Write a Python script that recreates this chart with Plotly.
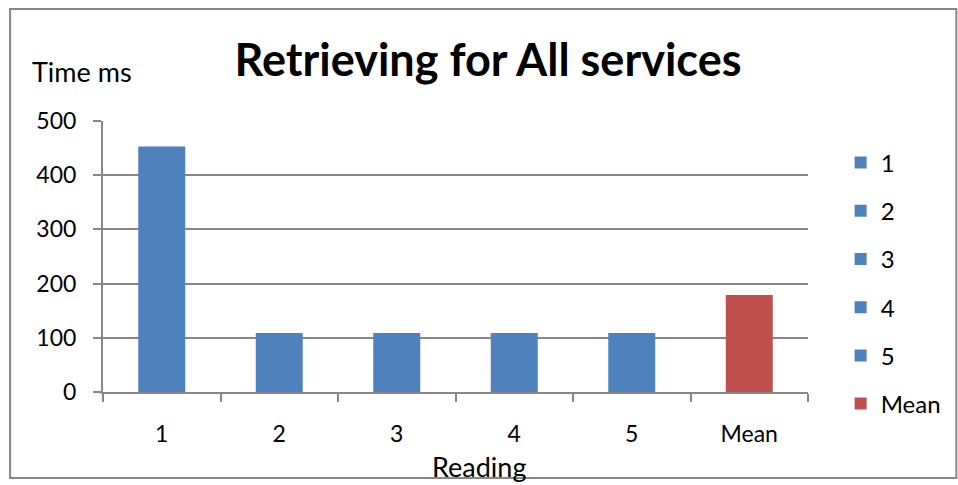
import plotly.graph_objects as go

categories = ["1", "2", "3", "4", "5", "Mean"]
values = [453, 109, 109, 109, 109, 179]
colors = ["#4F81BD"] * 5 + ["#C0504D"]
y_ticks = [0, 100, 200, 300, 400, 500]

FONT = "Lato"
GRAY = "#878787"

fig = go.Figure()
for c, v, col in zip(categories, values, colors):
    fig.add_trace(go.Bar(x=[c], y=[v], name=c, marker_color=col,
                         marker_line_width=0, legendgroup=c))

L, R, T, B = 103, 816, 121, 392
W, H = 958, 485
pw, ph = R - L, B - T

def px(x):
    return (x - L) / pw

def py(y):
    return (B - y) / ph

fig.update_layout(
    width=W, height=H,
    margin=dict(l=L, r=W - R, t=T, b=H - B, pad=0),
    paper_bgcolor="white", plot_bgcolor="white",
    barmode="overlay", bargap=0.6,
    font=dict(family=FONT, color="black", size=23),
    title=dict(text="<b>Retrieving for All services</b>", x=488 / W, xanchor="center",
               y=1 - 60 / H, yanchor="middle", font=dict(size=45, family=FONT)),
    xaxis=dict(type="category", categoryorder="array", categoryarray=categories,
               showline=True, linecolor=GRAY, linewidth=2, ticks="outside",
               tickson="boundaries", ticklen=8, tickcolor=GRAY, tickwidth=2,
               ticklabelstandoff=20, tickfont=dict(size=23), showgrid=False),
    yaxis=dict(range=[0, 500], tickvals=y_ticks, showline=True, linecolor=GRAY,
               linewidth=2, ticks="outside", ticklen=8, tickcolor=GRAY, tickwidth=2,
               ticklabelstandoff=12, showgrid=True, gridcolor=GRAY, gridwidth=2,
               zeroline=False, tickfont=dict(size=23)),
    legend=dict(x=px(849), xanchor="left", y=py(283.5), yanchor="middle",
                font=dict(size=24), tracegroupgap=14, itemwidth=30,
                bgcolor="rgba(0,0,0,0)", maxheight=420),
    showlegend=True,
)

fig.add_annotation(text="Time ms", xref="paper", yref="paper", x=px(29), xanchor="left",
                   y=py(71), yanchor="middle", showarrow=False, font=dict(size=27))
fig.add_annotation(text="Reading", xref="paper", yref="paper", x=px(483.5), xanchor="center",
                   y=py(466), yanchor="middle", showarrow=False, font=dict(size=27))

fig.add_shape(type="rect", xref="paper", yref="paper", x0=px(9), x1=px(966),
              y0=py(478), y1=py(9), line=dict(color=GRAY, width=2), layer="below")

fig.write_html("out.html")
